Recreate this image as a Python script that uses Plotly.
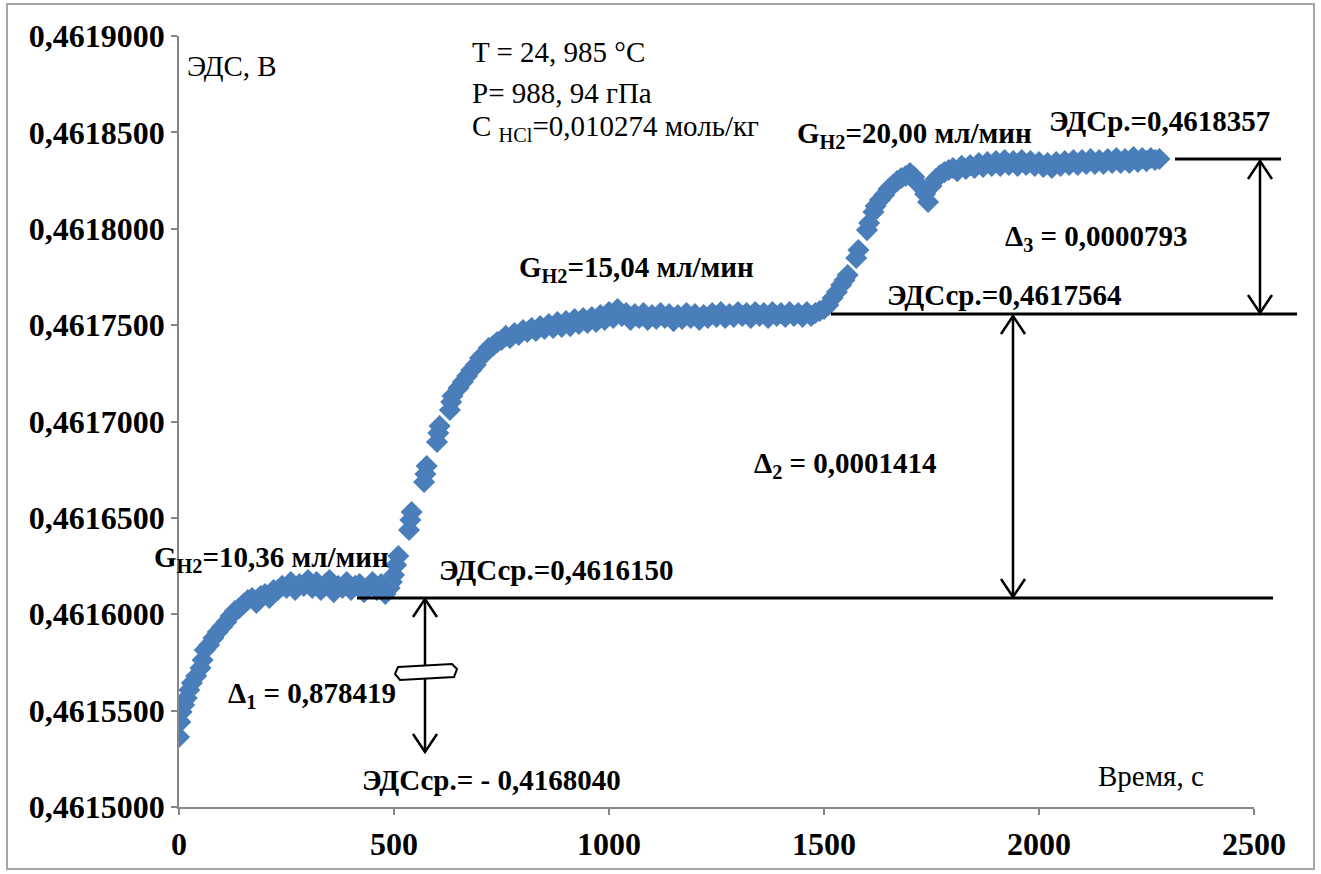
import plotly.graph_objects as go

# ---- data (time, s ; EMF, V) ----
T = [0, 3, 6, 12, 18, 24, 30, 40, 50, 55, 60, 70, 80, 90, 100, 110, 120, 130, 140, 150,
     160, 170, 180, 190, 200, 210, 220,
     230, 240, 250, 260, 270, 280, 290, 300, 310, 320, 330, 340, 350, 360, 370, 380, 390,
     400, 410, 420, 430, 440, 450, 460, 470, 480, 490,
     495, 500, 505, 510, 535, 538, 541, 570, 573, 576, 600, 603, 606, 630, 633, 636,
     650, 660, 670, 680, 690, 700, 710, 720, 730, 740, 750, 760, 770, 780, 790, 800,
     810, 820, 830, 840, 850, 860, 870, 880, 890, 900, 910, 920, 930, 940, 950, 960,
     970, 980, 990, 1000, 1010, 1020, 1030, 1040, 1050, 1060, 1070, 1080, 1090, 1100,
     1110, 1120, 1130, 1140, 1150, 1160, 1170, 1180, 1190, 1200, 1210, 1220, 1230, 1240,
     1250, 1260, 1270, 1280, 1290, 1300, 1310, 1320, 1330, 1340, 1350, 1360, 1370, 1380,
     1390, 1400, 1410, 1420, 1430, 1440, 1450, 1460, 1470, 1480, 1490,
     1500, 1510, 1520, 1530, 1540, 1548, 1555, 1575, 1580, 1600, 1605, 1615, 1620, 1630,
     1640, 1650, 1660, 1670, 1680, 1690, 1700, 1710, 1720, 1735, 1742, 1750, 1760, 1770, 1780,
     1790, 1800, 1810, 1820, 1830, 1840, 1850, 1860, 1870, 1880, 1890, 1900, 1910, 1920,
     1930, 1940, 1950, 1960, 1970, 1980, 1990, 2000, 2010, 2020, 2030, 2040, 2050, 2060,
     2070, 2080, 2090, 2100, 2110, 2120, 2130, 2140, 2150, 2160, 2170, 2180, 2190, 2200,
     2210, 2220, 2230, 2240, 2250, 2260, 2270, 2280]

V = [0.4615363, 0.4615441, 0.4615493, 0.4615529, 0.4615565, 0.4615607, 0.4615643, 0.4615680,
     0.4615721, 0.4615763, 0.4615815, 0.4615840, 0.4615877, 0.4615908, 0.4615934, 0.4615960,
     0.4615991, 0.4616017, 0.4616032, 0.4616053, 0.4616074, 0.4616084, 0.4616059, 0.4616095,
     0.4616105, 0.4616084, 0.4616126,
     0.4616126, 0.4616147, 0.4616136, 0.4616167, 0.4616126, 0.4616157, 0.4616147, 0.4616178,
     0.4616136, 0.4616167, 0.4616126, 0.4616157, 0.4616178, 0.4616115, 0.4616147, 0.4616136,
     0.4616167, 0.4616126, 0.4616147, 0.4616157, 0.4616115, 0.4616136, 0.4616167, 0.4616126,
     0.4616157, 0.4616105, 0.4616136,
     0.4616167, 0.4616204, 0.4616255, 0.4616302, 0.4616437, 0.4616489, 0.4616530, 0.4616686,
     0.4616728, 0.4616769, 0.4616894, 0.4616940, 0.4616977, 0.4617060, 0.4617101, 0.4617132,
     0.4617174, 0.4617205, 0.4617236, 0.4617267, 0.4617293, 0.4617329, 0.4617350, 0.4617381,
     0.4617392, 0.4617412, 0.4617423, 0.4617444, 0.4617433, 0.4617459, 0.4617449, 0.4617475,
     0.4617464, 0.4617485, 0.4617470, 0.4617495, 0.4617480, 0.4617506, 0.4617485, 0.4617516,
     0.4617490, 0.4617521, 0.4617495, 0.4617532, 0.4617506, 0.4617537, 0.4617511, 0.4617542,
     0.4617516, 0.4617552, 0.4617527, 0.4617568, 0.4617537, 0.4617584, 0.4617547, 0.4617563,
     0.4617527, 0.4617558, 0.4617537, 0.4617563, 0.4617527, 0.4617552, 0.4617532, 0.4617563,
     0.4617537, 0.4617558, 0.4617521, 0.4617552, 0.4617532, 0.4617563, 0.4617537, 0.4617558,
     0.4617527, 0.4617552, 0.4617537, 0.4617563, 0.4617542, 0.4617568, 0.4617537, 0.4617558,
     0.4617542, 0.4617568, 0.4617547, 0.4617563, 0.4617537, 0.4617568, 0.4617547, 0.4617563,
     0.4617537, 0.4617568, 0.4617547, 0.4617563, 0.4617542, 0.4617568, 0.4617547, 0.4617563,
     0.4617542, 0.4617568, 0.4617547, 0.4617563, 0.4617573,
     0.4617584, 0.4617604, 0.4617641, 0.4617672, 0.4617708, 0.4617734, 0.4617760, 0.4617848,
     0.4617890, 0.4617993, 0.4618030, 0.4618087, 0.4618118, 0.4618149, 0.4618175, 0.4618206,
     0.4618227, 0.4618248, 0.4618263, 0.4618274, 0.4618289, 0.4618268, 0.4618230, 0.4618180,
     0.4618139, 0.4618222, 0.4618258, 0.4618279, 0.4618294, 0.4618305, 0.4618315, 0.4618299,
     0.4618326, 0.4618310, 0.4618331, 0.4618315, 0.4618341, 0.4618320, 0.4618346, 0.4618326,
     0.4618351, 0.4618326, 0.4618357, 0.4618331, 0.4618351, 0.4618326, 0.4618357, 0.4618331,
     0.4618351, 0.4618326, 0.4618346, 0.4618320, 0.4618341, 0.4618315, 0.4618346, 0.4618326,
     0.4618351, 0.4618331, 0.4618357, 0.4618331, 0.4618357, 0.4618336, 0.4618362, 0.4618336,
     0.4618357, 0.4618336, 0.4618362, 0.4618341, 0.4618367, 0.4618341, 0.4618362, 0.4618341,
     0.4618372, 0.4618346, 0.4618367, 0.4618351, 0.4618367, 0.4618357, 0.4618362]

X_TICKS = [0, 500, 1000, 1500, 2000, 2500]
Y_TICKS = [0.4615, 0.46155, 0.4616, 0.46165, 0.4617, 0.46175, 0.4618, 0.46185, 0.4619]
X_RANGE = [0, 2500]
Y_RANGE = [0.4615, 0.4619]

# ---- layout geometry ----
W, H = 1321, 874
L, R, TOP, B = 179, 67, 36, 67
PW, PH = W - L - R, H - TOP - B


def px(x):
    return (x - L) / PW


def py(y):
    return (H - B - y) / PH


SERIF = "Liberation Serif"
AXC = "#868686"

fig = go.Figure()
fig.add_trace(go.Scatter(
    x=T, y=V, mode="markers",
    marker=dict(symbol="diamond", size=17, color="#4A7EBB", line=dict(width=0)),
    showlegend=False, hoverinfo="x+y"))

shapes = []
# outer chart border
shapes.append(dict(type="rect", xref="paper", yref="paper",
                   x0=px(7), x1=px(1314), y0=py(869), y1=py(4),
                   line=dict(color="#A6A6A6", width=2), fillcolor="rgba(0,0,0,0)", layer="below"))


def hline(x0, x1, y, w=3):
    shapes.append(dict(type="line", xref="paper", yref="paper",
                       x0=px(x0), x1=px(x1), y0=py(y), y1=py(y),
                       line=dict(color="black", width=w)))


def varrow(x, ytop, ybot):
    shapes.append(dict(type="line", xref="paper", yref="paper",
                       x0=px(x), x1=px(x), y0=py(ytop), y1=py(ybot),
                       line=dict(color="black", width=2.5)))
    for tip, d in ((ytop, 18), (ybot, -18)):
        path = "M {a},{b} L {c},{d} L {e},{f}".format(
            a=px(x - 12), b=py(tip + d), c=px(x), d=py(tip), e=px(x + 12), f=py(tip + d))
        shapes.append(dict(type="path", xref="paper", yref="paper", path=path,
                           line=dict(color="black", width=2.5)))


hline(357, 1273, 598)
hline(831, 1297, 314)
hline(1175, 1281, 159)
varrow(425, 599, 752)
varrow(1013, 316, 597)
varrow(1260, 161, 313)

# break symbol on the first arrow
pts = [(398, 667), (452, 664), (457, 669), (454, 677), (400, 680), (395, 674)]
path = "M " + " L ".join("{:.5f},{:.5f}".format(px(a), py(b)) for a, b in pts) + " Z"
shapes.append(dict(type="path", xref="paper", yref="paper", path=path,
                   fillcolor="white", line=dict(color="black", width=2)))

# ---- text ----
TEXTS = [
    ("ЭДС, В", 185, 66, False),
    ("T = 24, 985 °C", 470, 52, False),
    ("P= 988, 94 гПа", 470, 93, False),
    ("C <sub>HCl</sub>=0,010274 моль/кг", 470, 128, False),
    ("G<sub>H2</sub>=20,00 мл/мин", 795, 135, True),
    ("ЭДСр.=0,4618357", 1047, 121, True),
    ("Δ<sub>3</sub> = 0,0000793", 1003, 238, True),
    ("G<sub>H2</sub>=15,04 мл/мин", 517, 269, True),
    ("ЭДСср.=0,4617564", 885, 295, True),
    ("Δ<sub>2</sub> = 0,0001414", 752, 465, True),
    ("G<sub>H2</sub>=10,36 мл/мин", 152, 559, True),
    ("ЭДСср.=0,4616150", 437, 570, True),
    ("Δ<sub>1</sub> = 0,878419", 226, 695, True),
    ("ЭДСср.= - 0,4168040", 360, 780, True),
    ("Время, с", 1096, 776, False),
]
annotations = []
for txt, x, y, bold in TEXTS:
    annotations.append(dict(
        text=txt, xref="paper", yref="paper", x=px(x), y=py(y),
        xanchor="left", yanchor="middle", showarrow=False,
        font=dict(family=SERIF, size=29, color="black",
                  weight="bold" if bold else "normal")))

fig.update_layout(
    width=W, height=H,
    margin=dict(l=L, r=R, t=TOP, b=B, autoexpand=False),
    paper_bgcolor="white", plot_bgcolor="white",
    separators=", ",
    font=dict(family=SERIF),
    shapes=shapes, annotations=annotations,
    xaxis=dict(range=X_RANGE, tickvals=X_TICKS, showgrid=False, zeroline=False,
               showline=True, linecolor=AXC, linewidth=1.5,
               ticks="outside", ticklen=6, tickcolor=AXC, tickwidth=1.5,
               ticklabelstandoff=2,
               tickfont=dict(family=SERIF, size=32, color="black", weight="bold")),
    yaxis=dict(range=Y_RANGE, tickvals=Y_TICKS, tickformat=".7f", showgrid=False,
               zeroline=False, showline=True, linecolor=AXC, linewidth=1.5,
               ticks="outside", ticklen=6, tickcolor=AXC, tickwidth=1.5,
               tickfont=dict(family=SERIF, size=32, color="black", weight="bold")),
)

fig.write_html("out.html")
